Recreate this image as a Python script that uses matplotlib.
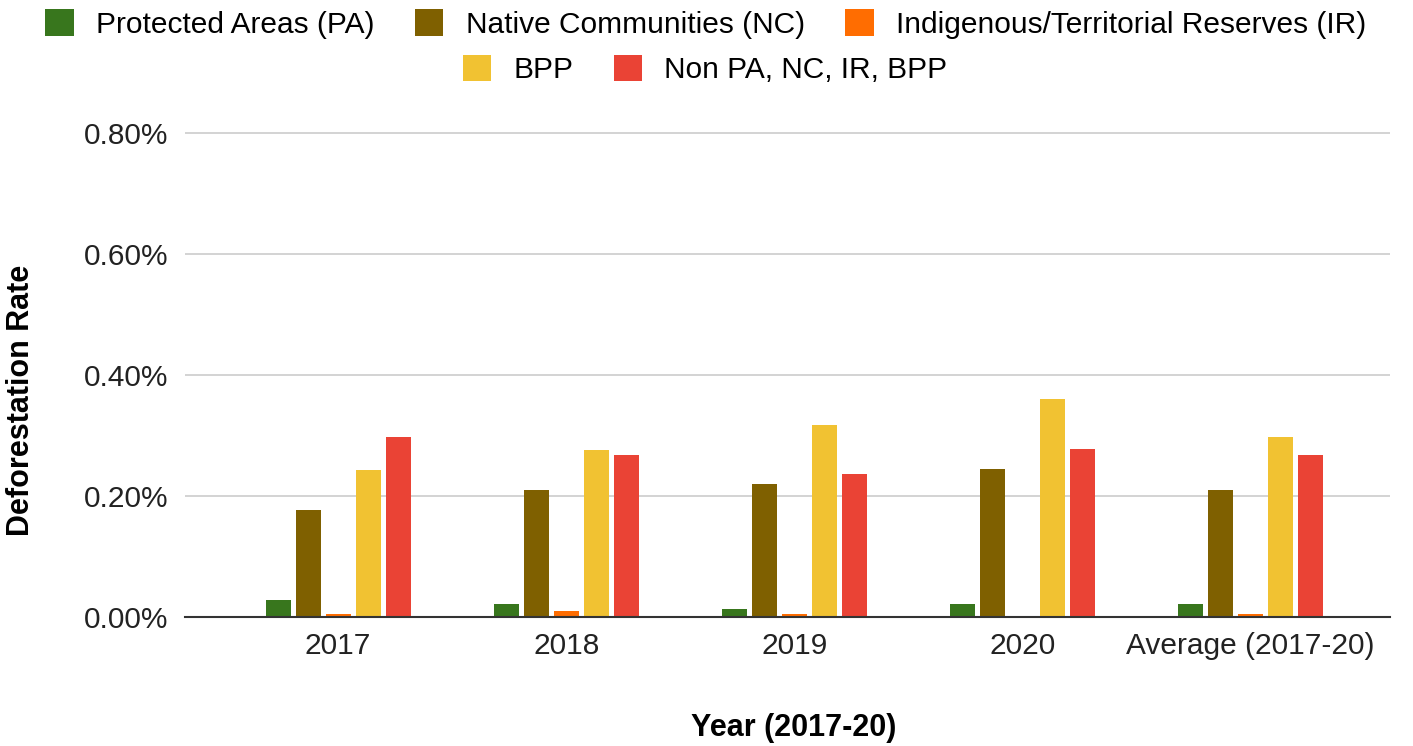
import numpy as np
import matplotlib
matplotlib.use("Agg")
import matplotlib.pyplot as plt
from matplotlib.patches import Patch
from matplotlib.ticker import FuncFormatter

plt.rcParams["font.family"] = ["Liberation Sans", "DejaVu Sans"]

years = ["2017", "2018", "2019", "2020", "Average (2017-20)"]
series = [
    "Protected Areas (PA)",
    "Native Communities (NC)",
    "Indigenous/Territorial Reserves (IR)",
    "BPP",
    "Non PA, NC, IR, BPP",
]
colors = ["#38761d", "#7f6000", "#ff6d01", "#f1c232", "#ea4335"]

# deforestation rate in percent
pa = [0.028, 0.022, 0.013, 0.022, 0.022]
nc = [0.177, 0.210, 0.219, 0.244, 0.210]
ir = [0.005, 0.009, 0.005, 0.0, 0.005]
bpp = [0.243, 0.276, 0.318, 0.360, 0.297]
non = [0.297, 0.268, 0.236, 0.277, 0.268]
values = [pa, nc, ir, bpp, non]

fig = plt.figure(figsize=(14.13, 7.46), dpi=100)
ax = fig.add_axes([0.131, 0.173, 0.853, 0.665])

x = np.arange(len(years))
pitch = 0.1316
width = 0.11
for i, (vals, c) in enumerate(zip(values, colors)):
    ax.bar(x + (i - 2) * pitch, vals, width=width, color=c, zorder=3)

ax.set_xlim(-0.671, 4.614)
ax.set_ylim(0, 0.82)
ax.set_yticks([0, 0.2, 0.4, 0.6, 0.8])
ax.yaxis.set_major_formatter(FuncFormatter(lambda v, p: "%.2f%%" % v))
ax.set_xticks(x)
ax.set_xticklabels(years)
ax.grid(axis="y", color="#cccccc", linewidth=1.2, zorder=0)
for s in ["top", "right", "left"]:
    ax.spines[s].set_visible(False)
ax.spines["bottom"].set_color("#333333")
ax.spines["bottom"].set_linewidth(1.5)
ax.spines["bottom"].set_zorder(4)
ax.tick_params(axis="both", length=0, labelsize=21.5, colors="#222222")
ax.tick_params(axis="y", pad=12)
ax.tick_params(axis="x", pad=11)

ax.set_ylabel("Deforestation Rate", fontsize=22, fontweight="bold")
ax.yaxis.set_label_coords(-0.136, 0.4375)
ax.set_xlabel("Year (2017-20)", fontsize=22, fontweight="bold")
ax.xaxis.set_label_coords(0.5046, -0.223)
ax.xaxis.label.set_va("center")
ax.yaxis.label.set_va("center")

handles = [Patch(facecolor=c, edgecolor="none") for c in colors]
leg_kw = dict(loc="center", frameon=False, fontsize=21.5, handlelength=0.95,
              handleheight=1.0, handletextpad=0.75, columnspacing=1.35,
              borderpad=0, borderaxespad=0)
leg1 = fig.legend(handles[:3], series[:3], bbox_to_anchor=(0.4995, 0.968),
                  ncol=3, **leg_kw)
leg2 = fig.legend(handles[3:], series[3:], bbox_to_anchor=(0.499, 0.907),
                  ncol=2, **leg_kw)

fig.savefig("out.png", dpi=100)
